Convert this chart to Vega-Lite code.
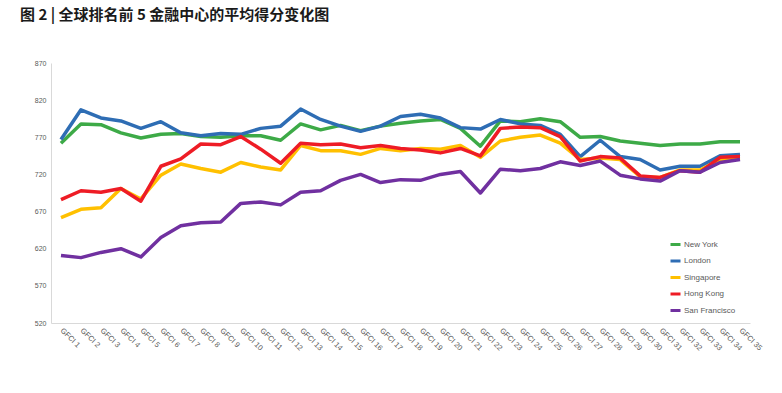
{
  "$schema": "https://vega.github.io/schema/vega-lite/v6.json",
  "width": 699,
  "height": 260,
  "padding": {"left": 20, "top": 8, "right": 5, "bottom": 5},
  "background": "white",
  "title": {"text": "图 2 | 全球排名前 5 金融中心的平均得分变化图", "anchor": "start", "frame": "group", "dx": -31, "offset": 36, "font": "Noto Sans CJK SC", "fontSize": 15, "fontWeight": "bold", "color": "#1a1a1a"},
  "data": {"values": [
    {"g":"GFCI 1","New York":762,"London":767,"Singapore":662,"Hong Kong":686,"San Francisco":611},
    {"g":"GFCI 2","New York":788,"London":807,"Singapore":673,"Hong Kong":698,"San Francisco":608},
    {"g":"GFCI 3","New York":787,"London":796,"Singapore":675,"Hong Kong":696,"San Francisco":615},
    {"g":"GFCI 4","New York":776,"London":792,"Singapore":701,"Hong Kong":701,"San Francisco":620},
    {"g":"GFCI 5","New York":769,"London":782,"Singapore":687,"Hong Kong":684,"San Francisco":609},
    {"g":"GFCI 6","New York":774,"London":791,"Singapore":719,"Hong Kong":731,"San Francisco":635},
    {"g":"GFCI 7","New York":775,"London":776,"Singapore":734,"Hong Kong":741,"San Francisco":651},
    {"g":"GFCI 8","New York":771,"London":772,"Singapore":728,"Hong Kong":761,"San Francisco":655},
    {"g":"GFCI 9","New York":770,"London":775,"Singapore":723,"Hong Kong":760,"San Francisco":656},
    {"g":"GFCI 10","New York":772,"London":774,"Singapore":736,"Hong Kong":771,"San Francisco":681},
    {"g":"GFCI 11","New York":772,"London":782,"Singapore":730,"Hong Kong":754,"San Francisco":683},
    {"g":"GFCI 12","New York":766,"London":785,"Singapore":726,"Hong Kong":735,"San Francisco":679},
    {"g":"GFCI 13","New York":788,"London":808,"Singapore":759,"Hong Kong":762,"San Francisco":696},
    {"g":"GFCI 14","New York":780,"London":794,"Singapore":752,"Hong Kong":760,"San Francisco":698},
    {"g":"GFCI 15","New York":786,"London":785,"Singapore":752,"Hong Kong":761,"San Francisco":712},
    {"g":"GFCI 16","New York":779,"London":778,"Singapore":747,"Hong Kong":756,"San Francisco":720},
    {"g":"GFCI 17","New York":785,"London":785,"Singapore":755,"Hong Kong":759,"San Francisco":709},
    {"g":"GFCI 18","New York":789,"London":798,"Singapore":752,"Hong Kong":755,"San Francisco":713},
    {"g":"GFCI 19","New York":792,"London":801,"Singapore":755,"Hong Kong":753,"San Francisco":712},
    {"g":"GFCI 20","New York":794,"London":796,"Singapore":754,"Hong Kong":749,"San Francisco":720},
    {"g":"GFCI 21","New York":782,"London":783,"Singapore":759,"Hong Kong":755,"San Francisco":724},
    {"g":"GFCI 22","New York":758,"London":781,"Singapore":743,"Hong Kong":745,"San Francisco":695},
    {"g":"GFCI 23","New York":792,"London":794,"Singapore":765,"Hong Kong":782,"San Francisco":727},
    {"g":"GFCI 24","New York":791,"London":788,"Singapore":770,"Hong Kong":784,"San Francisco":725},
    {"g":"GFCI 25","New York":795,"London":786,"Singapore":773,"Hong Kong":783,"San Francisco":728},
    {"g":"GFCI 26","New York":791,"London":774,"Singapore":762,"Hong Kong":771,"San Francisco":737},
    {"g":"GFCI 27","New York":770,"London":744,"Singapore":740,"Hong Kong":738,"San Francisco":732},
    {"g":"GFCI 28","New York":771,"London":766,"Singapore":742,"Hong Kong":744,"San Francisco":738},
    {"g":"GFCI 29","New York":765,"London":744,"Singapore":740,"Hong Kong":742,"San Francisco":719},
    {"g":"GFCI 30","New York":762,"London":740,"Singapore":717,"Hong Kong":718,"San Francisco":714},
    {"g":"GFCI 31","New York":759,"London":726,"Singapore":716,"Hong Kong":716,"San Francisco":711},
    {"g":"GFCI 32","New York":761,"London":731,"Singapore":726,"Hong Kong":725,"San Francisco":725},
    {"g":"GFCI 33","New York":761,"London":731,"Singapore":726,"Hong Kong":723,"San Francisco":723},
    {"g":"GFCI 34","New York":764,"London":745,"Singapore":740,"Hong Kong":743,"San Francisco":736},
    {"g":"GFCI 35","New York":764,"London":747,"Singapore":742,"Hong Kong":744,"San Francisco":740}
  ]},
  "transform": [{"fold": ["New York","London","Singapore","Hong Kong","San Francisco"], "as": ["city","score"]}],
  "mark": {"type": "line", "strokeWidth": 3.5, "strokeJoin": "round"},
  "encoding": {
    "x": {"field": "g", "type": "ordinal", "sort": null, "scale": {"type": "point", "padding": 0.5},
      "axis": {"title": null, "labelAngle": 45, "labelAlign": "left", "labelBaseline": "middle", "labelFontSize": 7.5, "labelColor": "#595959", "ticks": false, "domainColor": "#d9d9d9", "labelPadding": 6, "labelFont": "Liberation Sans"}},
    "y": {"field": "score", "type": "quantitative", "scale": {"domain": [520, 870], "nice": false, "zero": false},
      "axis": {"title": null, "values": [520,570,620,670,720,770,820,870], "grid": false, "ticks": false, "labelFontSize": 7, "labelColor": "#595959", "domainColor": "#d9d9d9", "labelPadding": 5, "labelFont": "Liberation Sans"}},
    "color": {"field": "city", "type": "nominal",
      "scale": {"domain": ["New York","London","Singapore","Hong Kong","San Francisco"], "range": ["#3daa47","#2e6db4","#ffc000","#ee1c25","#7030a0"]},
      "legend": {"title": null, "orient": "none", "legendX": 618, "legendY": 175, "symbolType": "stroke", "symbolStrokeWidth": 3, "symbolSize": 100, "labelFontSize": 8, "labelColor": "#595959", "rowPadding": 3.5, "labelOffset": 2, "labelFont": "Liberation Sans"}}
  },
  "config": {"view": {"stroke": null}}
}
